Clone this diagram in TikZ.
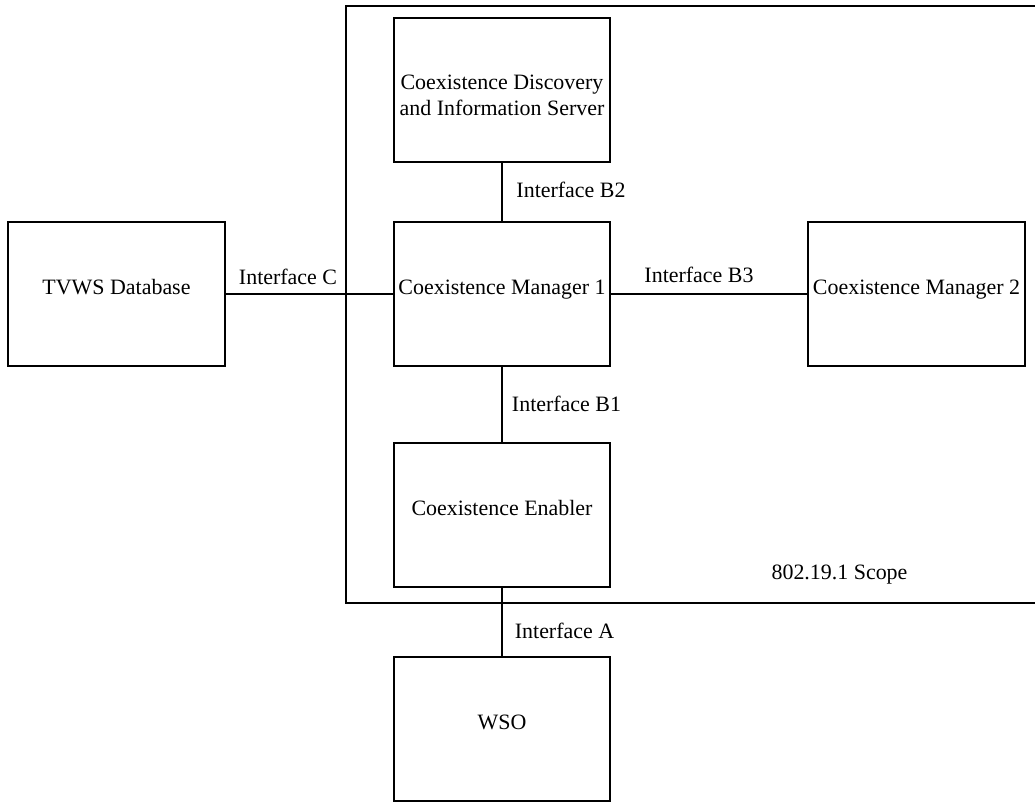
\documentclass[tikz,border=0pt]{standalone}
\usepackage{fontspec}
\setmainfont{Liberation Serif}
\usepackage{tikz}

\tikzset{
  blockbox/.style={draw, line width=1.4pt, minimum width=5.4cm, minimum height=3.6cm,
    inner sep=2pt, text height=0.35cm, text depth=0.35cm},
  twolinebox/.style={draw, line width=1.4pt, minimum width=5.4cm, minimum height=3.6cm,
    inner sep=2pt, align=center},
  iflabel/.style={inner sep=0pt, text depth=0pt},
  link/.style={line width=1.4pt}
}

\begin{document}
\begin{tikzpicture}[x=0.025cm, y=-0.025cm,
  font=\fontsize{15.6}{17.8}\selectfont]
  \useasboundingbox (0,0) rectangle (1035,803);

  % Scope frame
  \draw[line width=1.6pt] (1035,6) -| (346,603) -- (1035,603);
  \node[iflabel] (scope) at (839.5,572) {802.19.1 Scope};

  % Blocks
  \node[twolinebox] (cdis) at (502,90) {\rule{0pt}{0.63cm}Coexistence Discovery\\and Information Server};
  \node[blockbox] (cmone) at (502,294) {Coexistence Manager 1};
  \node[blockbox] (tvws) at (116.5,294) {TVWS Database};
  \node[blockbox] (cmtwo) at (916.5,294) {Coexistence Manager 2};
  \node[blockbox] (ce) at (502,515) {Coexistence Enabler};
  \node[blockbox] (wso) at (502,729) {WSO};

  % Interfaces
  \draw[link] (cdis) -- (cmone);
  \node[iflabel] (ifbtwo) at (571,190) {Interface B2};
  \draw[link] (tvws) -- (cmone);
  \node[iflabel] (ifc) at (288,277) {Interface C};
  \draw[link] (cmone) -- (cmtwo);
  \node[iflabel] (ifbthree) at (699,275) {Interface B3};
  \draw[link] (cmone) -- (ce);
  \node[iflabel] (ifbone) at (566.5,404) {Interface B1};
  \draw[link] (ce) -- (wso);
  \node[iflabel] (ifa) at (564.5,631) {Interface A};
\end{tikzpicture}
\end{document}
